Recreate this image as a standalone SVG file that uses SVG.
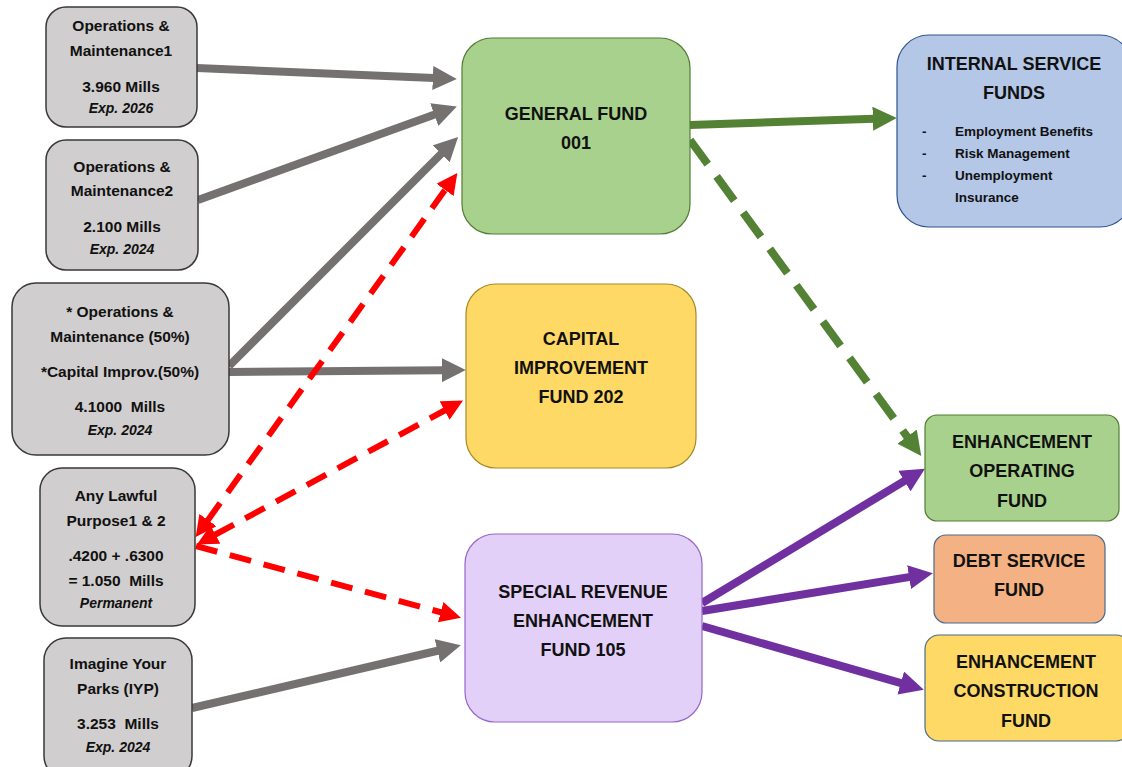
<svg xmlns="http://www.w3.org/2000/svg" width="1122" height="767" viewBox="0 0 1122 767">
<style>
text{font-family:"Liberation Sans",Arial,sans-serif;font-weight:bold;text-anchor:middle;fill:#111}
.src{fill:#D0CECE;stroke:#3A3838;stroke-width:1.5}
.s{font-size:15.5px}
.e{font-size:14px;font-style:italic}
.b{font-size:18px}
.m{font-size:17px}
.l{font-size:13.5px;text-anchor:start}
.g{stroke:#767171;stroke-width:8;fill:none}
.r{stroke:#FF0000;stroke-width:6;fill:none;stroke-dasharray:22 13}
.gr{stroke:#548235;stroke-width:8;fill:none}
.grd{stroke:#548235;stroke-width:8;fill:none;stroke-dasharray:30 15}
.p{stroke:#7030A0;stroke-width:8;fill:none}
</style>
<defs>
<marker id="ag" viewBox="0 0 10 10" refX="0.5" refY="5" markerWidth="3" markerHeight="3" orient="auto"><path d="M0,0 L10,5 L0,10 z" fill="#767171"/></marker>
<marker id="ar" viewBox="0 0 10 10" refX="0.5" refY="5" markerWidth="3.5" markerHeight="3.5" orient="auto-start-reverse"><path d="M0,0 L10,5 L0,10 z" fill="#FF0000"/></marker>
<marker id="agr" viewBox="0 0 10 10" refX="0.5" refY="5" markerWidth="3" markerHeight="3" orient="auto"><path d="M0,0 L10,5 L0,10 z" fill="#548235"/></marker>
<marker id="ap" viewBox="0 0 10 10" refX="0.5" refY="5" markerWidth="3" markerHeight="3" orient="auto"><path d="M0,0 L10,5 L0,10 z" fill="#7030A0"/></marker>
</defs>
<rect width="1122" height="767" fill="#fff"/>

<g id="connectors">
<line class="g" x1="197" y1="68" x2="434" y2="78" marker-end="url(#ag)"/>
<line class="g" x1="198" y1="200" x2="435.4" y2="114.2" marker-end="url(#ag)"/>
<line class="g" x1="229" y1="366" x2="442" y2="153" marker-end="url(#ag)"/>
<line class="g" x1="229" y1="372" x2="443" y2="370.2" marker-end="url(#ag)"/>
<line class="g" x1="192" y1="708" x2="438.6" y2="650.5" marker-end="url(#ag)"/>
<line class="r" x1="207.3" y1="520.9" x2="445.7" y2="189.1" marker-start="url(#ar)" marker-end="url(#ar)"/>
<line class="r" x1="214.5" y1="535" x2="445.5" y2="410" marker-start="url(#ar)" marker-end="url(#ar)"/>
<line class="r" x1="196" y1="546" x2="441.7" y2="612.5" marker-end="url(#ar)"/>
<line class="gr" x1="690" y1="125" x2="874" y2="118.8" marker-end="url(#agr)"/>
<line class="grd" x1="690" y1="140" x2="907.8" y2="437.6" marker-end="url(#agr)"/>
<line class="p" x1="702" y1="603" x2="905.4" y2="480.4" marker-end="url(#ap)"/>
<line class="p" x1="702" y1="611" x2="910.3" y2="576.9" marker-end="url(#ap)"/>
<line class="p" x1="702" y1="626" x2="901.9" y2="683.4" marker-end="url(#ap)"/>
</g>

<g id="om1">
<rect class="src" x="46" y="7" width="151" height="120" rx="20"/>
<text class="s" x="121" y="31">Operations &amp;</text>
<text class="s" x="121" y="56">Maintenance1</text>
<text class="s" x="121" y="92">3.960 Mills</text>
<text class="e" x="121" y="113">Exp. 2026</text>
</g>
<g id="om2">
<rect class="src" x="46" y="140" width="152" height="130" rx="20"/>
<text class="s" x="122" y="172">Operations &amp;</text>
<text class="s" x="122" y="196">Maintenance2</text>
<text class="s" x="122" y="232">2.100 Mills</text>
<text class="e" x="122" y="254">Exp. 2024</text>
</g>
<g id="om50">
<rect class="src" x="12" y="283" width="217" height="172" rx="24"/>
<text class="s" x="120" y="317">* Operations &amp;</text>
<text class="s" x="120" y="342">Maintenance (50%)</text>
<text class="s" x="120" y="377">*Capital Improv.(50%)</text>
<text class="s" x="120" y="412" xml:space="preserve">4.1000  Mills</text>
<text class="e" x="120" y="435">Exp. 2024</text>
</g>
<g id="lawful">
<rect class="src" x="40" y="468" width="155" height="158" rx="22"/>
<text class="s" x="116" y="501">Any Lawful</text>
<text class="s" x="116" y="526">Purpose1 &amp; 2</text>
<text class="s" x="116" y="561">.4200 + .6300</text>
<text class="s" x="116" y="586" xml:space="preserve">= 1.050  Mills</text>
<text class="e" x="116" y="608">Permanent</text>
</g>
<g id="iyp">
<rect class="src" x="44" y="638" width="148" height="140" rx="22"/>
<text class="s" x="118" y="669">Imagine Your</text>
<text class="s" x="118" y="694">Parks (IYP)</text>
<text class="s" x="118" y="729" xml:space="preserve">3.253  Mills</text>
<text class="e" x="118" y="752">Exp. 2024</text>
</g>

<g id="general">
<rect x="462" y="38" width="228" height="196" rx="30" fill="#A9D18E" stroke="#507E32" stroke-width="1.2"/>
<text class="b" x="576" y="120">GENERAL FUND</text>
<text class="b" x="576" y="149">001</text>
</g>
<g id="internal">
<rect x="897" y="35" width="235" height="192" rx="32" fill="#B4C7E7" stroke="#2F528F" stroke-width="1.2"/>
<text class="b" x="1014" y="70">INTERNAL SERVICE</text>
<text class="b" x="1014" y="99">FUNDS</text>
<text class="l" x="922" y="136">-</text>
<text class="l" x="955" y="136">Employment Benefits</text>
<text class="l" x="922" y="158">-</text>
<text class="l" x="955" y="158">Risk Management</text>
<text class="l" x="922" y="180">-</text>
<text class="l" x="955" y="180">Unemployment</text>
<text class="l" x="955" y="202">Insurance</text>
</g>
<g id="capital">
<rect x="466" y="284" width="230" height="184" rx="30" fill="#FFD966" stroke="#A68A28" stroke-width="1.2"/>
<text class="b" x="581" y="345">CAPITAL</text>
<text class="b" x="581" y="374">IMPROVEMENT</text>
<text class="b" x="581" y="403">FUND 202</text>
</g>
<g id="special">
<rect x="465" y="534" width="237" height="188" rx="30" fill="#E3D0F8" stroke="#9666C8" stroke-width="1.2"/>
<text class="b" x="583" y="598">SPECIAL REVENUE</text>
<text class="b" x="583" y="627">ENHANCEMENT</text>
<text class="b" x="583" y="656">FUND 105</text>
</g>
<g id="enhop">
<rect x="925" y="415" width="194" height="106" rx="12" fill="#A9D18E" stroke="#507E32" stroke-width="1.2"/>
<text class="b" x="1022" y="448">ENHANCEMENT</text>
<text class="b" x="1022" y="477">OPERATING</text>
<text class="b" x="1022" y="507">FUND</text>
</g>
<g id="debt">
<rect x="934" y="535" width="171" height="88" rx="12" fill="#F4B183" stroke="#4A6A8C" stroke-width="1.2"/>
<text class="b" x="1019" y="567">DEBT SERVICE</text>
<text class="b" x="1019" y="596">FUND</text>
</g>
<g id="enhcon">
<rect x="925" y="635" width="205" height="106" rx="14" fill="#FFD966" stroke="#4A6A8C" stroke-width="1.2"/>
<text class="b" x="1026" y="668">ENHANCEMENT</text>
<text class="b" x="1026" y="697">CONSTRUCTION</text>
<text class="b" x="1026" y="727">FUND</text>
</g>
</svg>
